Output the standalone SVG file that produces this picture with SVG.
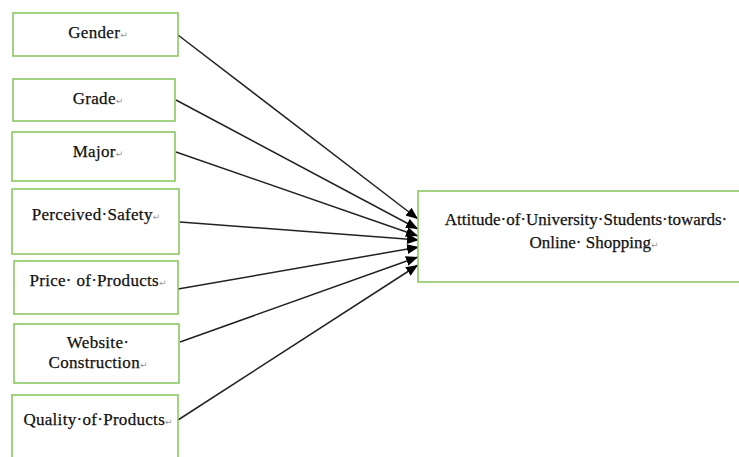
<svg xmlns="http://www.w3.org/2000/svg" width="739" height="457" viewBox="0 0 739 457">
<style>
.box{fill:#fff;stroke:#8cc763;stroke-width:1.6}
.t{font-family:'Liberation Serif','Times New Roman','DejaVu Serif',serif;font-size:17px;fill:#111;letter-spacing:0.3px;text-anchor:middle;stroke:#111;stroke-width:0.25}
.n{letter-spacing:0}
.m{font-family:'DejaVu Sans',sans-serif;font-size:9px;fill:#999;stroke:none;letter-spacing:0}
.c{stroke:#222;stroke-width:1.5;fill:none;marker-end:url(#ah)}
</style>
<defs>
<marker id="ah" viewBox="0 0 12 10" refX="12" refY="5" markerWidth="12" markerHeight="10" markerUnits="userSpaceOnUse" orient="auto">
<path d="M0,0 L12,5 L0,10 Z" fill="#000"/>
</marker>
</defs>
<rect width="739" height="457" fill="#fff"/>
<g id="connectors">
<line class="c" x1="178" y1="35" x2="418" y2="219"/>
<line class="c" x1="176" y1="100" x2="418" y2="229"/>
<line class="c" x1="176" y1="152" x2="418" y2="236"/>
<line class="c" x1="180" y1="222" x2="419" y2="240"/>
<line class="c" x1="178" y1="289" x2="419" y2="247"/>
<line class="c" x1="180" y1="342" x2="418" y2="257"/>
<line class="c" x1="178" y1="420" x2="418" y2="265"/>
</g>
<g id="gender">
<rect class="box" x="13" y="13" width="165" height="43"/>
<text class="t" x="98" y="38">Gender<tspan class="m">↵</tspan></text>
</g>
<g id="grade">
<rect class="box" x="13" y="79" width="162" height="42"/>
<text class="t" x="98" y="104">Grade<tspan class="m">↵</tspan></text>
</g>
<g id="major">
<rect class="box" x="12" y="132" width="163" height="49"/>
<text class="t" x="98" y="157">Major<tspan class="m">↵</tspan></text>
</g>
<g id="safety">
<rect class="box" x="12" y="189" width="167" height="65"/>
<text class="t" x="96" y="220">Perceived·Safety<tspan class="m">↵</tspan></text>
</g>
<g id="price">
<rect class="box" x="14" y="261" width="164" height="53"/>
<text class="t" x="98" y="286">Price· of·Products<tspan class="m">↵</tspan></text>
</g>
<g id="website">
<rect class="box" x="14" y="324" width="165" height="59"/>
<text class="t" x="98" y="348">Website·</text>
<text class="t" x="98" y="368">Construction<tspan class="m">↵</tspan></text>
</g>
<g id="quality">
<rect class="box" x="12" y="395" width="166" height="70"/>
<text class="t" x="98" y="425">Quality·of·Products<tspan class="m">↵</tspan></text>
</g>
<g id="attitude">
<rect class="box" x="418" y="191" width="325" height="91"/>
<text class="t n" x="586" y="225">Attitude·of·University·Students·towards·</text>
<text class="t n" x="594" y="248">Online· Shopping<tspan class="m">↵</tspan></text>
</g>
</svg>
